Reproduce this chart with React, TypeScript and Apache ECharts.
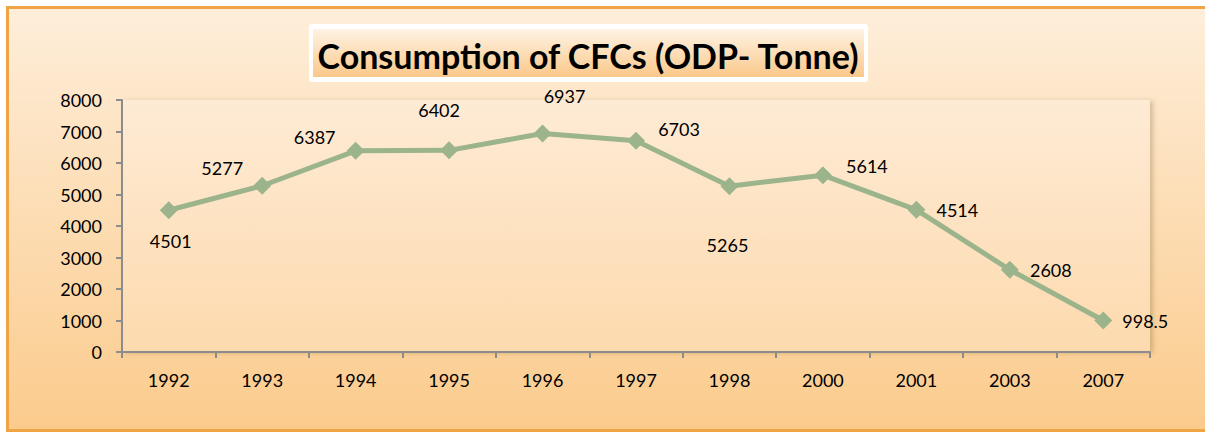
import React, { useEffect, useRef } from "react";
import * as echarts from "echarts";

const titleText = "Consumption of CFCs (ODP- Tonne)";
const years = ["1992", "1993", "1994", "1995", "1996", "1997", "1998", "2000", "2001", "2003", "2007"];
const consumption = [4501, 5277, 6387, 6402, 6937, 6703, 5265, 5614, 4514, 2608, 998.5];
// label offset [dx, dy] relative to the marker, per point
const labelOffsets: [number, number][] = [
  [2, 31], [-40, -18], [-41, -14], [-10, -40], [22, -37], [43, -12],
  [-2, 59], [44, -9], [41, 0], [41, 0], [42, 0],
];
const yTicks = { min: 0, max: 8000, interval: 1000 };

const FONT = "Lato, 'Open Sans', sans-serif";

export default function App() {
  const ref = useRef<HTMLDivElement>(null);
  useEffect(() => {
    if (!ref.current) return;
    const chart = echarts.init(ref.current, undefined, { renderer: "svg" });
    const grad = (a: string, b: string) =>
      new echarts.graphic.LinearGradient(0, 0, 0, 1, [
        { offset: 0, color: a },
        { offset: 1, color: b },
      ]);
    chart.setOption({
      animation: false,
      graphic: [
        {
          type: "rect",
          z: -10,
          silent: true,
          shape: { x: 7.5, y: 7.5, width: 1215, height: 423 },
          style: { fill: grad("#FEEEDA", "#FBCB8C"), stroke: "#F0A445", lineWidth: 3 },
        },
        {
          type: "rect",
          z: 5,
          shape: { x: 309, y: 24, width: 559, height: 58, r: 3 },
          style: { fill: "#FFFFFF" },
        },
        {
          type: "rect",
          z: 6,
          shape: { x: 313, y: 29, width: 551, height: 48 },
          style: { fill: grad("#FFF3E4", "#FAC88A") },
        },
        {
          type: "text",
          z: 7,
          x: 588,
          y: 55,
          style: {
            text: titleText,
            font: `bold 34px ${FONT}`,
            fill: "#000000",
            align: "center",
            verticalAlign: "middle",
          },
        },
      ],
      grid: {
        left: 122,
        right: 1205 - 1150,
        top: 100,
        bottom: 432 - 352,
        show: true,
        backgroundColor: grad("#FEEBD5", "#FDDAAE"),
        borderWidth: 0,
        shadowColor: "rgba(120,90,50,0.3)",
        shadowBlur: 5,
        shadowOffsetX: 3,
        shadowOffsetY: 1,
      },
      xAxis: {
        type: "category",
        data: years,
        boundaryGap: true,
        axisLine: { lineStyle: { color: "#8C8C8C", width: 2 } },
        axisTick: { show: true, length: 6, inside: false, alignWithLabel: false, lineStyle: { color: "#8C8C8C", width: 2 } },
        axisLabel: { color: "#000", fontSize: 18, fontFamily: FONT, margin: 19 },
        splitLine: { show: false },
      },
      yAxis: {
        type: "value",
        min: yTicks.min,
        max: yTicks.max,
        interval: yTicks.interval,
        axisLine: { show: true, lineStyle: { color: "#8C8C8C", width: 2 } },
        axisTick: { show: true, length: 6, lineStyle: { color: "#8C8C8C", width: 2 } },
        axisLabel: { color: "#000", fontSize: 18, fontFamily: FONT, margin: 20, formatter: (v: number) => String(v) },
        splitLine: { show: false },
      },
      series: [
        {
          type: "line",
          data: consumption.map((v, i) => ({
            value: v,
            label: { offset: labelOffsets[i] },
          })),
          symbol: "diamond",
          symbolSize: 18,
          lineStyle: { color: "#9BB48C", width: 5 },
          itemStyle: { color: "#9BB48C" },
          label: {
            show: true,
            position: "inside",
            color: "#000",
            fontSize: 18,
            fontFamily: FONT,
            formatter: (p: any) => String(p.value),
          },
          z: 3,
        },
      ],
    });
    return () => chart.dispose();
  }, []);
  return (
    <div
      ref={ref}
      style={{ position: "absolute", left: 0, top: 0, width: 1205, height: 432 }}
    />
  );
}
